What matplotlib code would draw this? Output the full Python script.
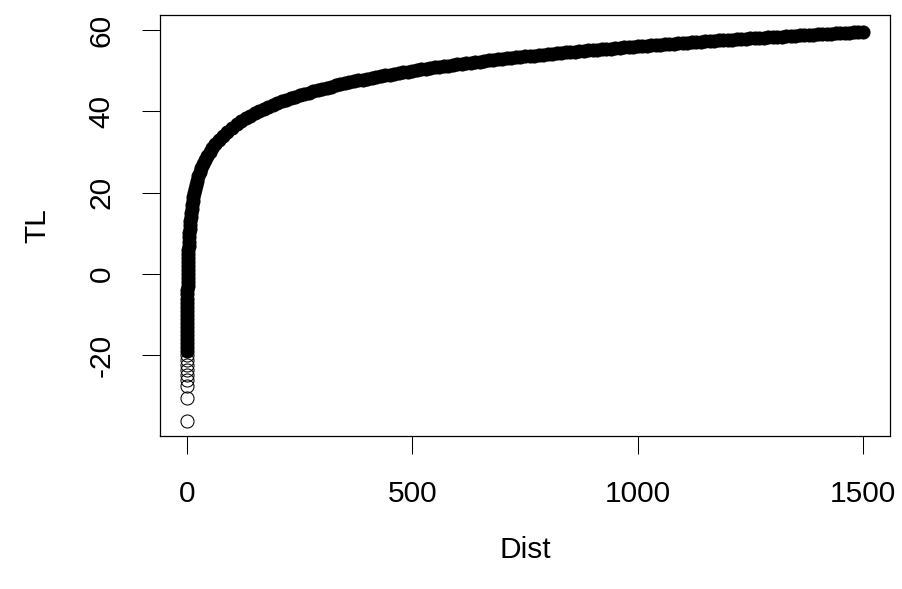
import matplotlib
matplotlib.use('Agg')
import matplotlib.pyplot as plt

plt.rcParams['font.family'] = ['Liberation Sans', 'DejaVu Sans']

# isolated points at the bottom (Dist ~ 0), drawn as open circles
dist_low = [0.03, 0.05, 0.07, 0.08, 0.10, 0.11, 0.13, 0.14, 0.16]
tl_low = [-36.0, -30.5, -27.6, -26.1, -24.9, -23.6, -22.4, -21.2, -20.0]

# steep part of the curve (Dist < 100)
dist_steep = [0.178, 0.200, 0.224, 0.251, 0.282, 0.316, 0.355, 0.398, 0.447, 0.501,
              0.562, 0.631, 0.708, 0.794, 0.891, 1.0, 1.122, 1.259, 1.413, 1.585,
              1.778, 1.995, 2.239, 2.512, 2.818, 3.162, 3.548, 3.981, 4.467, 5.012,
              5.623, 6.310, 7.079, 7.943, 8.913, 10.0, 11.22, 12.59, 14.13, 15.85,
              17.78, 19.95, 22.39, 25.12, 28.18, 31.62, 35.48, 39.81, 44.67, 50.12,
              56.23, 63.10, 70.79, 79.43, 89.13]
tl_steep = [-19, -18, -17, -16, -15, -14, -13, -12, -11, -10,
            -9, -8, -7, -6, -5, -4, -3, -2, -1, 0,
            1, 2, 3, 4, 5, 6, 7, 8, 9, 10,
            11, 12, 13, 14, 15, 16, 17, 18, 19, 20,
            21, 22, 23, 24, 25, 26, 27, 28, 29, 30,
            31, 32, 33, 34, 35]

# flatter part (Dist 100 .. 1500)
dist_flat = [100, 110, 120, 130, 140, 150, 160, 170, 180, 190,
             200, 210, 220, 230, 240, 250, 260, 270, 280, 290,
             300, 310, 320, 330, 340, 350, 360, 370, 380, 390,
             400, 410, 420, 430, 440, 450, 460, 470, 480, 490,
             500, 510, 520, 530, 540, 550, 560, 570, 580, 590,
             600, 610, 620, 630, 640, 650, 660, 670, 680, 690,
             700, 710, 720, 730, 740, 750, 760, 770, 780, 790,
             800, 810, 820, 830, 840, 850, 860, 870, 880, 890,
             900, 910, 920, 930, 940, 950, 960, 970, 980, 990,
             1000, 1010, 1020, 1030, 1040, 1050, 1060, 1070, 1080, 1090,
             1100, 1110, 1120, 1130, 1140, 1150, 1160, 1170, 1180, 1190,
             1200, 1210, 1220, 1230, 1240, 1250, 1260, 1270, 1280, 1290,
             1300, 1310, 1320, 1330, 1340, 1350, 1360, 1370, 1380, 1390,
             1400, 1410, 1420, 1430, 1440, 1450, 1460, 1470, 1480, 1490,
             1500]
tl_flat = [36.00, 36.83, 37.58, 38.28, 38.92, 39.52, 40.08, 40.61, 41.11, 41.58,
           42.02, 42.44, 42.85, 43.24, 43.60, 43.96, 44.30, 44.63, 44.94, 45.25,
           45.54, 45.83, 46.10, 46.37, 46.63, 46.88, 47.13, 47.36, 47.60, 47.82,
           48.04, 48.26, 48.47, 48.67, 48.87, 49.06, 49.26, 49.44, 49.63, 49.80,
           49.98, 50.15, 50.32, 50.49, 50.65, 50.81, 50.96, 51.12, 51.27, 51.42,
           51.56, 51.71, 51.85, 51.99, 52.12, 52.26, 52.39, 52.52, 52.65, 52.78,
           52.90, 53.03, 53.15, 53.27, 53.39, 53.50, 53.62, 53.73, 53.84, 53.95,
           54.06, 54.17, 54.28, 54.38, 54.49, 54.59, 54.69, 54.79, 54.89, 54.99,
           55.09, 55.18, 55.28, 55.37, 55.46, 55.55, 55.65, 55.74, 55.83, 55.91,
           56.00, 56.09, 56.17, 56.26, 56.34, 56.42, 56.51, 56.59, 56.67, 56.75,
           56.83, 56.91, 56.98, 57.06, 57.14, 57.21, 57.29, 57.36, 57.44, 57.51,
           57.58, 57.66, 57.73, 57.80, 57.87, 57.94, 58.01, 58.08, 58.14, 58.21,
           58.28, 58.35, 58.41, 58.48, 58.54, 58.61, 58.67, 58.73, 58.80, 58.86,
           58.92, 58.98, 59.05, 59.11, 59.17, 59.23, 59.29, 59.35, 59.41, 59.46,
           59.52]

x_ticks = [0, 500, 1000, 1500]
y_ticks = [-20, 0, 20, 40, 60]

fig = plt.figure(figsize=(9.02, 5.89), dpi=100)
ax = fig.add_axes([160 / 902, 1 - 436 / 589, 730 / 902, 421 / 589])

ms = 9.4
# open circles where the points are spread out
ax.plot(dist_low, tl_low, 'o', ms=ms, mfc='none', mec='black', mew=0.75)
# dense part: the circles overlap into a solid band
ax.plot(dist_steep + dist_flat, tl_steep + tl_flat, 'o', ms=ms,
        mfc='black', mec='black', mew=0.75)

ax.set_xlim(-60, 1560)
ax.set_ylim(-39.8, 63.7)
ax.set_xticks(x_ticks)
ax.set_xticklabels([str(v) for v in x_ticks])
ax.set_yticks(y_ticks)
ax.set_yticklabels([str(v) for v in y_ticks], rotation=90, va='center')
ax.tick_params(direction='out', length=13, width=0.75, labelsize=21.5, pad=19)
for s in ax.spines.values():
    s.set_linewidth(0.9)

ax.set_xlabel('Dist', fontsize=21.5, labelpad=20)
ax.set_ylabel('TL', fontsize=21.5, labelpad=26)

fig.savefig('out.png', dpi=100)
